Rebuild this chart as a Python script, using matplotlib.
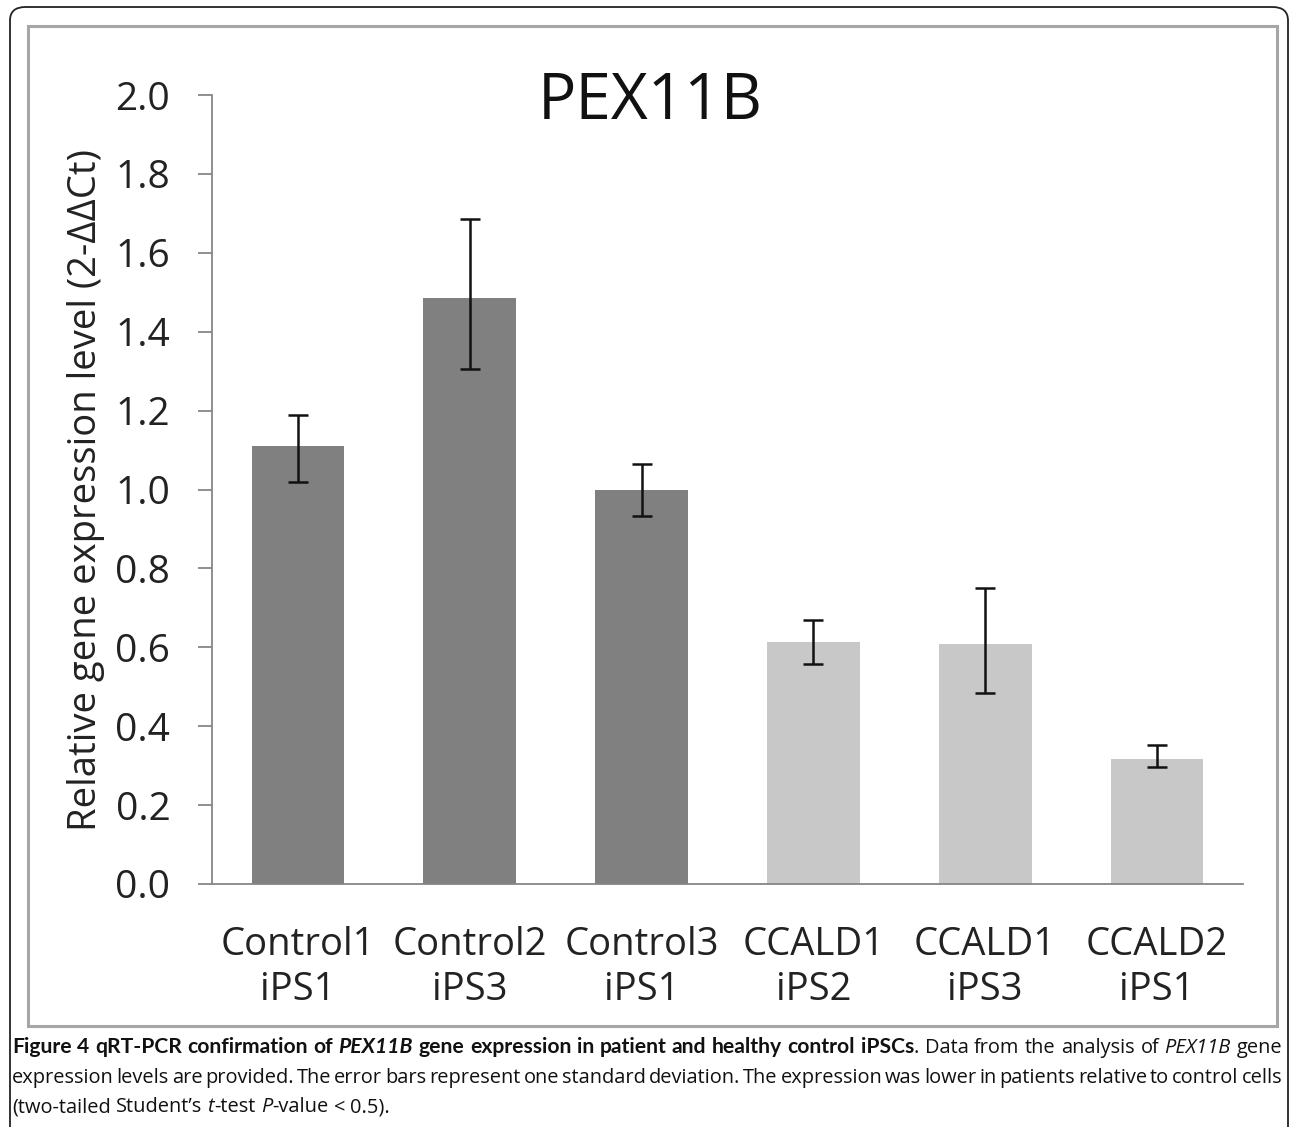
import numpy as np
import matplotlib
matplotlib.use("Agg")
import matplotlib.pyplot as plt
from matplotlib.patches import FancyBboxPatch, Rectangle

plt.rcParams['font.family'] = ['Open Sans', 'DejaVu Sans']

## data
samples = ["Control1\niPS1", "Control2\niPS3", "Control3\niPS1",
           "CCALD1\niPS2", "CCALD1\niPS3", "CCALD2\niPS1"]
expression = [1.11, 1.485, 1.00, 0.614, 0.608, 0.318]
err_low = [0.09, 0.18, 0.068, 0.056, 0.123, 0.022]
err_high = [0.08, 0.20, 0.065, 0.055, 0.142, 0.034]
group = ["control", "control", "control", "patient", "patient", "patient"]
yticks = [0.0, 0.2, 0.4, 0.6, 0.8, 1.0, 1.2, 1.4, 1.6, 1.8, 2.0]

colors = {"control": "#808080", "patient": "#c8c8c8"}

W, H = 1290, 1127
fig = plt.figure(figsize=(W / 100, H / 100), dpi=100)

# outer rounded frame and inner chart frame
fig.patches.append(FancyBboxPatch((10 / W, -0.05), 1278 / W, (H - 7) / H + 0.05,
                                  boxstyle="round,pad=0,rounding_size=0.012",
                                  transform=fig.transFigure, fill=False,
                                  edgecolor="#222222", linewidth=1.3))
fig.patches.append(Rectangle((28 / W, (H - 1026) / H), (1277 - 28) / W, (1026 - 26) / H,
                             transform=fig.transFigure, fill=False,
                             edgecolor="#a6a6a6", linewidth=2.2))

ax = fig.add_axes([212 / W, (H - 884) / H, (1243 - 212) / W, (884 - 95) / H])
x = np.arange(len(samples))
ax.bar(x, expression, width=0.54, color=[colors[g] for g in group],
       yerr=[err_low, err_high], ecolor="#111111",
       error_kw=dict(elinewidth=1.8, capsize=7.2, capthick=1.8))

ax.set_xlim(-0.5, len(samples) - 0.5)
ax.set_ylim(0, 2.0)
ax.set_yticks(yticks)
ax.set_yticklabels([f"{v:.1f}" for v in yticks], fontsize=28, color="#222222")
ax.set_xticks(x)
ax.set_xticklabels(samples, fontsize=27.5, color="#222222", linespacing=1.25)
ax.tick_params(axis="y", direction="out", length=10, width=1.3, color="#868686", pad=20)
ax.tick_params(axis="x", length=0, pad=30)
for s in ["top", "right"]:
    ax.spines[s].set_visible(False)
for s in ["left", "bottom"]:
    ax.spines[s].set_color("#868686")
    ax.spines[s].set_linewidth(1.3)

fig.text(650 / W, (H - 102) / H, "PEX11B", fontsize=46, ha="center", va="center", color="#111111")
fig.text(86 / W, (H - 490) / H, "Relative gene expression level (2-\u0394\u0394Ct)",
         fontsize=27.5, rotation=90, ha="center", va="center", color="#222222")

# caption, justified word by word
B, BI, N, I = ("bold", "normal"), ("bold", "italic"), ("normal", "normal"), ("normal", "italic")
line1 = [("Figure", B), ("4", B), ("qRT-PCR", B), ("confirmation", B), ("of", B), ("PEX11B", BI),
         ("gene", B), ("expression", B), ("in", B), ("patient", B), ("and", B), ("healthy", B),
         ("control", B), [("iPSCs", B), (".", N)], ("Data", N), ("from", N), ("the", N),
         ("analysis", N), ("of", N), ("PEX11B", I), ("gene", N)]
line2 = [(w, N) for w in "expression levels are provided. The error bars represent one standard "
         "deviation. The expression was lower in patients relative to control cells".split()]
line3 = [("(two-tailed", N), ("Student\u2019s", N), [("t", I), ("-test", N)], [("P", I), ("-value", N)],
         ("<", N), ("0.5).", N)]

renderer = fig.canvas.get_renderer()
cap_size = 14.4


def word_parts(tok):
    return tok if isinstance(tok, list) else [tok]


def style_kw(st):
    kw = dict(fontsize=cap_size, fontweight=st[0], fontstyle=st[1])
    if st[0] == "bold":
        kw["family"] = ["Lato", "DejaVu Sans"]
        kw["fontsize"] = cap_size * 1.06
    return kw


def measure(txt, st):
    t = fig.text(0, 0, txt, **style_kw(st))
    w = t.get_window_extent(renderer).width
    t.remove()
    return w


def draw_line(tokens, baseline, justify=True, x0=12, x1=1282):
    widths = [sum(measure(p, s) for p, s in word_parts(tok)) for tok in tokens]
    space = measure("a b", N) - measure("ab", N)
    if justify:
        space = (x1 - x0 - sum(widths)) / (len(tokens) - 1)
    xp = x0
    for tok, w in zip(tokens, widths):
        xx = xp
        for p, s in word_parts(tok):
            fig.text(xx / W, (H - baseline) / H, p, va="baseline", color="#111111", **style_kw(s))
            xx += measure(p, s)
        xp += w + space


draw_line(line1, 1053)
draw_line(line2, 1083)
draw_line(line3, 1112, justify=False)

fig.savefig("out.png", dpi=100)
